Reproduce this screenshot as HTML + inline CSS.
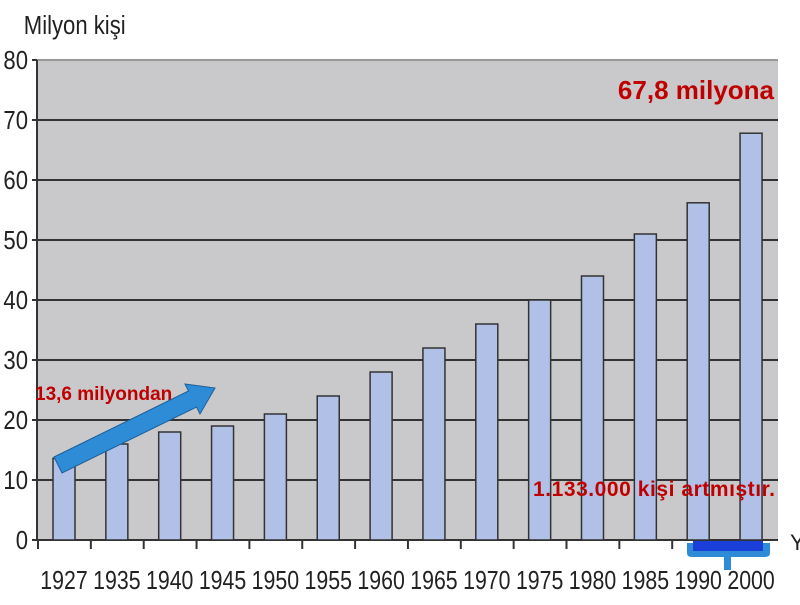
<!DOCTYPE html>
<html><head><meta charset="utf-8"><style>
body{margin:0;background:#fff;width:800px;height:600px;overflow:hidden;font-family:"Liberation Sans",sans-serif}
</style></head><body>
<svg id="chart" width="800" height="600" xmlns="http://www.w3.org/2000/svg">
<rect x="37" y="60" width="741" height="480" fill="#c9c9cb"/>
<text x="28" y="34" font-size="26" fill="#222" transform="scale(0.85,1)">Milyon kişi</text>
<g id="grid"></g><g id="bars"></g><g id="xlabels"></g>
<text x="790" y="550" font-size="22" fill="#222">Y</text>
<text x="774" y="99" font-size="26" font-weight="bold" fill="#c00000" text-anchor="end">67,8 milyona</text>
<text x="35" y="400" font-size="19" font-weight="bold" fill="#c00000">13,6 milyondan</text>
<text x="533" y="496" font-size="21" font-weight="bold" fill="#c00000" textLength="242">1.133.000 kişi artmıştır.</text>
<polygon points="54,457 188.5,391 185,384 215,388 200,414 196.5,407 62,473" fill="#2e8bd6" stroke="#1d5f9a" stroke-width="1"/>
<path d="M687,543 L687,553 Q687,557 692,557 L724,557 L724,570 L731,570 L731,557 L765,557 Q770,557 770,553 L770,543 Z" fill="#2e8bd6"/>
<rect x="693" y="541" width="70" height="10" fill="#1a3fd8"/>
</svg>
<script>
const categories=["1927","1935","1940","1945","1950","1955","1960","1965","1970","1975","1980","1985","1990","2000"];
const values=[13.6,16,18,19,21,24,28,32,36,40,44,51,56.2,67.8];
const yTicks=[0,10,20,30,40,50,60,70,80];
const NS="http://www.w3.org/2000/svg";
const x0=37,x1=778,yTop=60,yBot=540,yMax=80;
const y=v=>yBot-(v/yMax)*(yBot-yTop);
const cx=i=>x0+27+i*52.85;
function mk(t,a,p){const e=document.createElementNS(NS,t);for(const k in a)e.setAttribute(k,a[k]);p.appendChild(e);return e;}
const grid=document.getElementById('grid');
yTicks.forEach(t=>{
  const l=mk('line',{x1:x0,x2:x1,y1:y(t),y2:y(t),stroke:t==80?'#999':'#333','stroke-width':2},grid);
  
  
  const tk=mk('line',{x1:x0-5,x2:x0,y1:y(t),y2:y(t),stroke:'#333','stroke-width':2},grid);
  
  
  const tx=mk('text',{x:28/0.85,y:y(t)+9,'font-size':26,'text-anchor':'end',fill:'#222',transform:'scale(0.85,1)'},grid);
  tx.textContent=t;
  
  
});
const ax=mk('line',{x1:x0,x2:x0,y1:yTop,y2:yBot,stroke:'#333','stroke-width':2},grid);


const bars=document.getElementById('bars'),xl=document.getElementById('xlabels');
categories.forEach((c,i)=>{
  const b=mk('rect',{x:cx(i)-11,y:y(values[i]),width:22,height:yBot-y(values[i]),fill:'#b0c0e6',stroke:'#333','stroke-width':1.5},bars);
  
  
  const tk=mk('line',{x1:cx(i)-26,x2:cx(i)-26,y1:yBot,y2:yBot+9,stroke:'#333','stroke-width':2},xl);
  
  
  const t=mk('text',{x:cx(i)/0.82,y:589,'font-size':26,'text-anchor':'middle',fill:'#222',transform:'scale(0.82,1)'},xl);
  t.textContent=c;
  
  
});
</script>
</body></html>
